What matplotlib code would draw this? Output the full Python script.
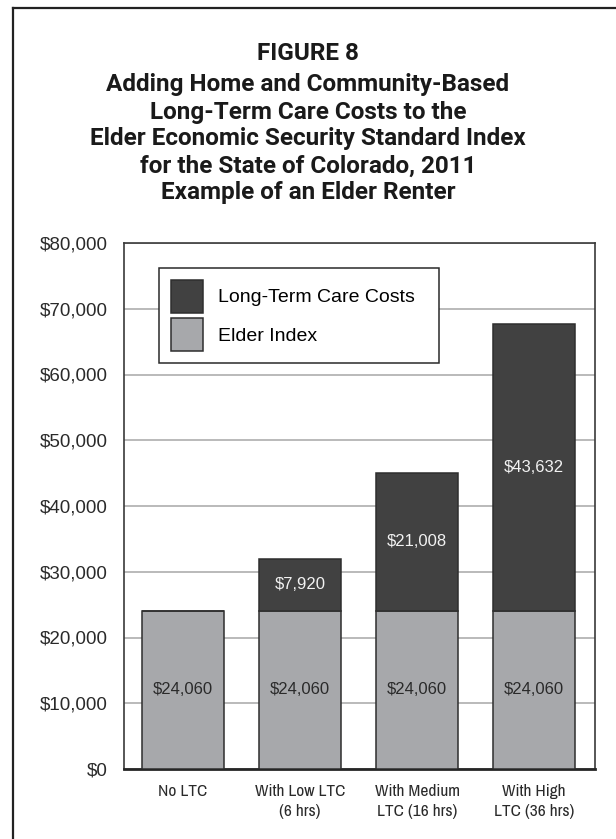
import matplotlib
matplotlib.use('Agg')
import matplotlib.pyplot as plt
from matplotlib import font_manager
from matplotlib.lines import Line2D
import numpy as np

# DATA

categories = ['No LTC', 'With Low LTC\n(6 hrs)', 'With Medium\nLTC (16 hrs)', 'With High\nLTC (36 hrs)']
elder_index = [24060, 24060, 24060, 24060]
ltc_costs = [0, 7920, 21008, 43632]
y_ticks = [0, 10000, 20000, 30000, 40000, 50000, 60000, 70000, 80000]
series_names = ['Long-Term Care Costs', 'Elder Index']
title_lines = ['FIGURE 8',
               'Adding Home and Community-Based',
               'Long-Term Care Costs to the',
               'Elder Economic Security Standard Index',
               'for the State of Colorado, 2011',
               'Example of an Elder Renter']

# FONTS

installed = set(f.name for f in font_manager.fontManager.ttflist)
title_font = 'Roboto' if 'Roboto' in installed else 'DejaVu Sans'
narrow = 'Archivo Narrow' if 'Archivo Narrow' in installed else 'Roboto'
body = 'Liberation Sans'

DARK = '#414141'
LIGHT = '#a7a8ab'
EDGE = '#2e2e2e'

fig = plt.figure(figsize=(6.16, 8.39), dpi=100)

# OUTER FRAME (left and top only, the rest is cut off)

fig.add_artist(Line2D([13 / 616, 13 / 616], [0, 1 - 8 / 839], transform=fig.transFigure,
                      color='#222222', lw=1.6))
fig.add_artist(Line2D([13 / 616, 1], [1 - 8 / 839, 1 - 8 / 839], transform=fig.transFigure,
                      color='#222222', lw=1.6))

# TITLE

title_y = [53, 85, 112, 139, 166, 193]
for i, line in enumerate(title_lines):
    fig.text(308 / 616, 1 - title_y[i] / 839, line, ha='center', va='center',
             family=title_font, weight='bold', fontsize=17.5, color='#1a1a1a')

# AXES

ax = fig.add_axes([124 / 616, 1 - 769 / 839, 471 / 616, 526 / 839])
x = np.arange(len(categories))
w = 0.7

ax.bar(x, elder_index, w, color=LIGHT, edgecolor=EDGE, linewidth=1.1, zorder=3,
       label=series_names[1])
ax.bar(x, ltc_costs, w, bottom=elder_index, color=DARK, edgecolor=EDGE, linewidth=1.1,
       zorder=3, label=series_names[0])

for i in range(len(categories)):
    ax.text(x[i], elder_index[i] / 2, '${:,}'.format(elder_index[i]), ha='center', va='center',
            family=body, fontsize=12, color='#2a2a2a', zorder=4)
    if ltc_costs[i] > 0:
        ax.text(x[i], elder_index[i] + ltc_costs[i] / 2, '${:,}'.format(ltc_costs[i]),
                ha='center', va='center', family=body, fontsize=12, color='#f2f2f2', zorder=4)

ax.set_xlim(-0.505, 3.52)
ax.set_ylim(0, 80000)
ax.set_yticks(y_ticks)
ax.set_yticklabels(['${:,}'.format(v) for v in y_ticks], family=body, fontsize=13.5,
                   color='#2a2a2a')
ax.set_xticks(x)
ax.set_xticklabels(categories, family=narrow, fontsize=12.5, color='#2a2a2a', linespacing=1.4)
ax.tick_params(axis='y', length=0, pad=12)
ax.tick_params(axis='x', length=0, pad=11)

ax.yaxis.grid(True, color='#b4b4b4', lw=1.3, zorder=0)
ax.set_axisbelow(True)
for side in ['left', 'top', 'right']:
    ax.spines[side].set_color('#3a3a3a')
    ax.spines[side].set_linewidth(1.2)
ax.spines['bottom'].set_color('#262626')
ax.spines['bottom'].set_linewidth(2)

# LEGEND

handles, labels = ax.get_legend_handles_labels()
leg = ax.legend(handles[::-1], labels[::-1], loc='upper left',
                bbox_to_anchor=(35 / 471, 0, 280 / 471, 501 / 526), mode='expand',
                borderaxespad=0, fancybox=False, edgecolor='#2a2a2a', framealpha=1,
                prop={'family': body, 'size': 14}, handlelength=1.65, handleheight=2.2,
                handletextpad=0.78, labelspacing=0.3, borderpad=0.62)
leg.get_frame().set_linewidth(1.1)
leg.set_zorder(5)

fig.savefig('out.png', dpi=100)
